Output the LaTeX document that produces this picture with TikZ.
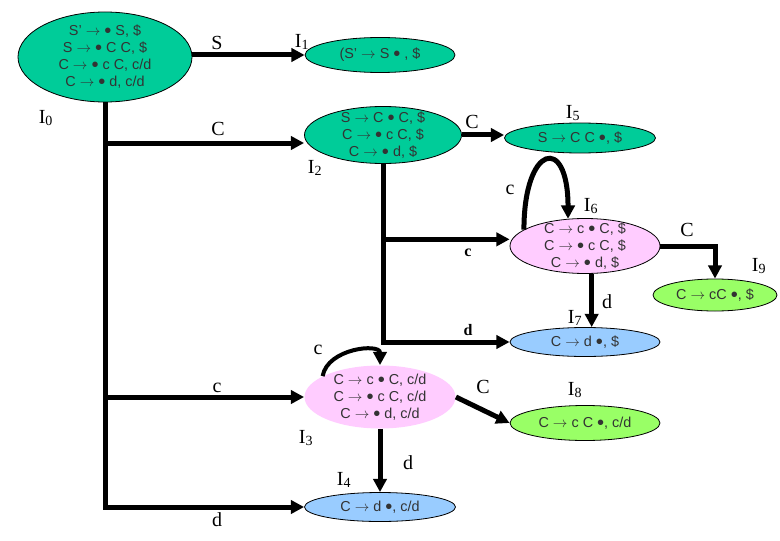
\documentclass[tikz,border=0pt]{standalone}
\usepackage{fontspec}
\setmainfont{Liberation Serif}
\setsansfont{Liberation Sans}
\usetikzlibrary{shapes.geometric}
\usetikzlibrary{arrows.meta}

\definecolor{kgreen}{HTML}{00CC99}
\definecolor{kpink}{HTML}{FFCCFF}
\definecolor{klime}{HTML}{99FF66}
\definecolor{kblue}{HTML}{99CCFF}

\newcommand{\itemfont}{\sffamily\fontsize{10.8}{12.75}\selectfont}
\newcommand{\symfont}{\rmfamily\fontsize{15}{18}\selectfont}
\newcommand{\smallsym}{\rmfamily\bfseries\fontsize{12}{14}\selectfont}
\newcommand{\yields}{$\rightarrow$}
\newcommand{\mk}{\raisebox{-0.15em}{\scalebox{1.4}{•}}}

\begin{document}
\begin{tikzpicture}[
        x=0.75pt, y=0.75pt,
        state/.style={ellipse, draw=black, line width=0.6pt, inner sep=-40pt,
            align=center, font=\itemfont, text=black!80},
        esize/.style 2 args={minimum width=#1*0.75pt, minimum height=#2*0.75pt},
        trans/.style={line width=3.75pt, -{Triangle[length=10pt, width=10pt]}},
        sym/.style={font=\symfont, inner sep=0pt},
        bsym/.style={font=\smallsym, inner sep=0pt},
    ]

    \useasboundingbox (0,0) rectangle (780,540);

    % Item sets
    \node[state, fill=kgreen, esize={174}{90}] (I0) at (105,483)
        {S' \yields{} \mk{} S, \$\\ S \yields{} \mk{} C C, \$\\
         C \yields{} \mk{} c C, c/d\\ C \yields{} \mk{} d, c/d};
    \node[state, fill=kgreen, esize={150}{35}] (I1) at (380,485)
        {(S' \yields{} S \mk{} , \$};
    \node[state, fill=kgreen, esize={157}{57}] (I2) at (383,405)
        {S \yields{} C \mk{} C, \$\\ C \yields{} \mk{} c C, \$\\ C \yields{} \mk{} d, \$};
    \node[state, fill=kgreen, esize={151}{30}] (I5) at (580,402)
        {S \yields{} C C \mk, \$};
    \node[state, fill=kpink, esize={150}{55}] (I6) at (585,294)
        {C \yields{} c \mk{} C, \$\\ C \yields{} \mk{} c C, \$\\ C \yields{} \mk{} d, \$};
    \node[state, fill=klime, esize={124}{32}] (I9) at (715,245)
        {C \yields{} cC \mk, \$};
    \node[state, fill=kblue, esize={150}{29}] (I7) at (585,198)
        {C \yields{} d \mk, \$};
    \node[state, fill=kpink, draw=none, esize={151}{63}] (I3) at (380,143)
        {C \yields{} c \mk{} C, c/d\\ C \yields{} \mk{} c C, c/d\\ C \yields{} \mk{} d, c/d};
    \node[state, fill=klime, esize={150}{35}] (I8) at (585,117)
        {C \yields{} c C \mk, c/d};
    \node[state, fill=kblue, esize={151}{29}] (I4) at (380,33)
        {C \yields{} d \mk, c/d};

    % Set names
    \node[sym] (n0) at (46,422) {I\textsubscript{0}};
    \node[sym] (n1) at (302,498) {I\textsubscript{1}};
    \node[sym] (n2) at (315,372) {I\textsubscript{2}};
    \node[sym] (n3) at (306,102) {I\textsubscript{3}};
    \node[sym] (n4) at (344,60) {I\textsubscript{4}};
    \node[sym] (n5) at (573,427) {I\textsubscript{5}};
    \node[sym] (n6) at (591,334) {I\textsubscript{6}};
    \node[sym] (n7) at (575,222) {I\textsubscript{7}};
    \node[sym] (n8) at (575,150) {I\textsubscript{8}};
    \node[sym] (n9) at (759,274) {I\textsubscript{9}};

    % Transitions
    \draw[trans] (I0.east |- I1.west) -- (I1.west);
    \draw[trans] (I0.south) |- (I4.west);
    \draw[trans] (I0.south) |- (I3.west);
    \draw[trans] (I0.south) |- ([yshift=-6]I2.west);

    \draw[trans] (I2.east) -- (I2.east -| I5.west);
    \draw[trans] (I2.south) |- (I7.west);
    \draw[trans] (I2.south) |- ([yshift=5]I6.west);

    \draw[trans] (I6.165) .. controls +(0,85) and +(0,85) .. (I6.122);
    \draw[trans] (I6.east) -| (I9.north);
    \draw[trans] ([xshift=5]I6.south) -- ([xshift=5]I7.north);

    \draw[trans, line width=3pt] (I3.160) .. controls +(5,28) and +(0,22) .. (I3.north);
    \draw[trans] (I3.east) -- (I8.west);
    \draw[trans] (I3.south) -- (I4.north);

    % Transition symbols
    \node[sym] (tS) at (217,497) {S};
    \node[sym] (tC0) at (218,411) {C};
    \node[sym] (tc0) at (217,152) {c};
    \node[sym] (td0) at (217,20) {d};
    \node[sym] (tC2) at (472,418) {C};
    \node[bsym] (tc2) at (468,287) {c};
    \node[bsym] (td2) at (468,210) {d};
    \node[sym] (tc6) at (510,350) {c};
    \node[sym] (tC6) at (687,310) {C};
    \node[sym] (td6) at (607,238) {d};
    \node[sym] (tc3) at (318,190) {c};
    \node[sym] (tC3) at (483,153) {C};
    \node[sym] (td3) at (408,77) {d};
\end{tikzpicture}
\end{document}
